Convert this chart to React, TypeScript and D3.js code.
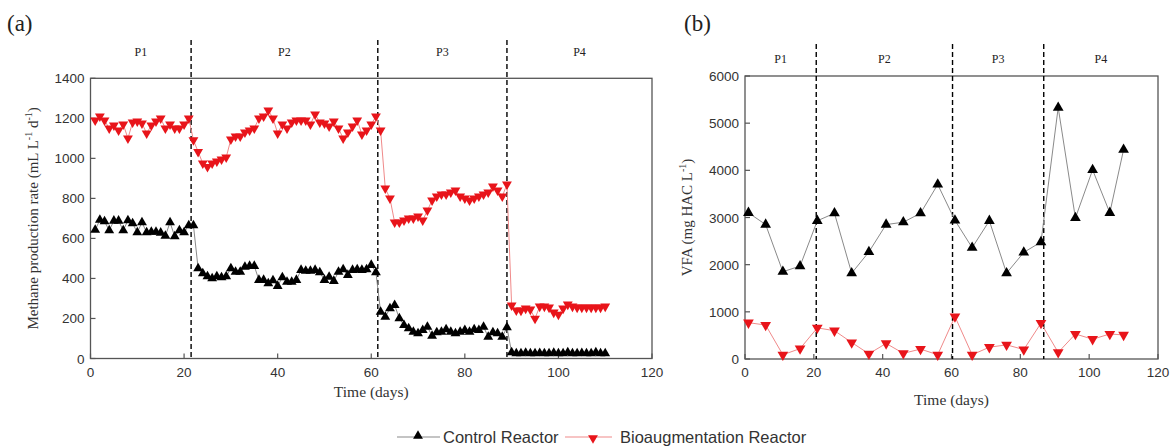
import React from "react";
import * as d3 from "d3";

// ---------- Panel (a): methane production rate (mL L-1 d-1), daily ----------
const daysA: number[] = d3.range(1, 111);
const controlA: number[] = [
  // P1 days 1-21
  642, 692, 685, 640, 688, 688, 640, 690, 675, 630, 680, 630, 632, 632, 628, 612, 680, 610, 640, 630, 665,
  // P2 days 22-61
  665, 450, 425, 410, 400, 410, 405, 410, 450, 433, 433, 458, 462, 462, 392, 392, 375, 390, 362, 405,
  383, 383, 392, 442, 438, 438, 442, 430, 392, 408, 387, 433, 445, 417, 442, 445, 442, 445, 467, 430,
  // P3 days 62-89
  233, 208, 250, 267, 200, 167, 150, 133, 125, 141, 158, 113, 130, 133, 145, 133, 125, 133, 141, 133,
  145, 141, 158, 108, 130, 125, 108, 155,
  // P4 days 90-110
  30, 25, 25, 28, 25, 25, 27, 25, 25, 28, 25, 25, 30, 25, 25, 27, 25, 25, 30, 25, 25,
];
const bioA: number[] = [
  // P1 days 1-21
  1190, 1210, 1190, 1150, 1165, 1140, 1170, 1100, 1180, 1185, 1175, 1125, 1165, 1185, 1200, 1150, 1170, 1150, 1150, 1170, 1200,
  // P2 days 22-61
  1091, 1033, 975, 958, 975, 985, 995, 1005, 1095, 1110, 1110, 1130, 1140, 1150, 1200, 1210, 1240, 1200, 1125, 1170,
  1150, 1180, 1190, 1190, 1190, 1170, 1220, 1180, 1175, 1160, 1185, 1150, 1100, 1130, 1160, 1190, 1120, 1140, 1170, 1210,
  // P3 days 62-89
  1140, 850, 800, 680, 680, 690, 700, 700, 710, 690, 740, 790, 810, 820, 820, 830, 840, 810, 800, 790,
  800, 810, 820, 830, 860, 840, 810, 870,
  // P4 days 90-110
  266, 241, 240, 250, 245, 200, 260, 260, 255, 230, 220, 250, 270, 260, 255, 255, 255, 255, 255, 255, 260,
];
const phaseA: number[] = [21.5, 61.4, 89.0];

// ---------- Panel (b): VFA (mg HAC L-1) ----------
const daysB: number[] = [1, 6, 11, 16, 21, 26, 31, 36, 41, 46, 51, 56, 61, 66, 71, 76, 81, 86, 91, 96, 101, 106, 110];
const controlB: number[] = [3100, 2850, 1850, 1970, 2930, 3090, 1820, 2270, 2850, 2900, 3090, 3700, 2940, 2360, 2930, 1820, 2260, 2480, 5330, 2990, 4010, 3100, 4440];
const bioB: number[] = [770, 720, 90, 220, 660, 600, 350, 110, 330, 120, 210, 90, 900, 90, 250, 300, 200, 760, 140, 530, 420, 530, 510];
const phaseB: number[] = [20.7, 60.3, 86.8];

const phaseLabels: string[] = ["P1", "P2", "P3", "P4"];
const xTicks: number[] = [0, 20, 40, 60, 80, 100, 120];
const yTicksA: number[] = [0, 200, 400, 600, 800, 1000, 1200, 1400];
const yTicksB: number[] = [0, 1000, 2000, 3000, 4000, 5000, 6000];
const seriesNames: string[] = ["Control Reactor", "Bioaugmentation Reactor"];

const AXIS = "#555";
const BLACK = "#000";
const RED = "#e8141a";
const GREY_LINE = "#8a8a8a";
const RED_LINE = "#f08a8a";
const SANS = "'Liberation Sans', Arial, sans-serif";
const SERIF = "'Liberation Serif', 'Times New Roman', serif";

const triUp = d3.symbol().type(d3.symbolTriangle).size(42)();

type PanelProps = {
  left: number; right: number; top: number; bottom: number;
  yMax: number; yTicks: number[];
  cx: number[]; cy: number[]; bx: number[]; by: number[];
  phases: number[];
  dashTop: number;
  labelY: number;
  yTitle: React.ReactNode;
  yTitleX: number;
  xTitleY: number;
  markSize: number;
};

function Panel(p: PanelProps) {
  const x = d3.scaleLinear().domain([0, 120]).range([p.left, p.right]);
  const y = d3.scaleLinear().domain([0, p.yMax]).range([p.bottom, p.top]);
  const line = d3.line<[number, number]>().x((d) => x(d[0])).y((d) => y(d[1]));
  const cPts = p.cx.map((d, i) => [d, p.cy[i]] as [number, number]);
  const bPts = p.bx.map((d, i) => [d, p.by[i]] as [number, number]);
  const sym = d3.symbol().type(d3.symbolTriangle).size(p.markSize)();
  const bounds = [0, ...p.phases, 120];
  return (
    <g>
      {/* frame */}
      <rect x={p.left} y={p.top} width={p.right - p.left} height={p.bottom - p.top} fill="none" stroke={AXIS} strokeWidth={1.3} />
      {/* ticks */}
      {xTicks.map((t) => (
        <g key={"xt" + t}>
          <line x1={x(t)} x2={x(t)} y1={p.bottom} y2={p.bottom - 5} stroke={AXIS} strokeWidth={1.2} />
          <text x={x(t)} y={p.bottom + 18} textAnchor="middle" fontFamily={SANS} fontSize={13.5} fill="#333">{t}</text>
        </g>
      ))}
      {p.yTicks.map((t) => (
        <g key={"yt" + t}>
          <line x1={p.left} x2={p.left + 5} y1={y(t)} y2={y(t)} stroke={AXIS} strokeWidth={1.2} />
          <text x={p.left - 6} y={y(t) + 5} textAnchor="end" fontFamily={SANS} fontSize={13.5} fill="#333">{t}</text>
        </g>
      ))}
      {/* phase separators */}
      {p.phases.map((d) => (
        <line key={"ph" + d} x1={x(d)} x2={x(d)} y1={p.dashTop} y2={p.bottom} stroke={BLACK} strokeWidth={1.4} strokeDasharray="5,3" />
      ))}
      {phaseLabels.map((lab, i) => (
        <text key={lab} x={(x(bounds[i]) + x(bounds[i + 1])) / 2} y={p.labelY} textAnchor="middle" fontFamily={SERIF} fontSize={12} fill="#222">{lab}</text>
      ))}
      {/* series lines */}
      <path d={line(cPts) || ""} fill="none" stroke={GREY_LINE} strokeWidth={1} />
      <path d={line(bPts) || ""} fill="none" stroke={RED_LINE} strokeWidth={1} />
      {cPts.map((d, i) => (
        <path key={"c" + i} d={sym || ""} transform={`translate(${x(d[0])},${y(d[1])})`} fill={BLACK} />
      ))}
      {bPts.map((d, i) => (
        <path key={"b" + i} d={sym || ""} transform={`translate(${x(d[0])},${y(d[1])}) rotate(180)`} fill={RED} />
      ))}
      {/* axis titles */}
      <text x={(p.left + p.right) / 2} y={p.xTitleY} textAnchor="middle" fontFamily={SERIF} fontSize={15.5} fill="#333">Time (days)</text>
      <text transform={`translate(${p.yTitleX},${(p.top + p.bottom) / 2}) rotate(-90)`} textAnchor="middle" fontFamily={SERIF} fontSize={15} fill="#333">{p.yTitle}</text>
    </g>
  );
}

export default function App() {
  return (
    <svg width={1174} height={448} style={{ position: "absolute", left: 0, top: 0, background: "#fff" }}>
      <rect x={0} y={0} width={1174} height={448} fill="#fff" />
      <text x={7} y={31} fontFamily={SERIF} fontSize={23} fill="#222">(a)</text>
      <text x={684} y={31} fontFamily={SERIF} fontSize={23} fill="#222">(b)</text>
      <Panel
        left={90.5} right={652} top={78.3} bottom={358.5}
        yMax={1400} yTicks={yTicksA}
        cx={daysA} cy={controlA} bx={daysA} by={bioA}
        phases={phaseA} dashTop={40} labelY={56}
        yTitle={<>Methane production rate (mL L<tspan dy={-6} fontSize={10}>-1</tspan><tspan dy={6}> d</tspan><tspan dy={-6} fontSize={10}>-1</tspan><tspan dy={6}>)</tspan></>}
        yTitleX={38} xTitleY={397} markSize={42}
      />
      <Panel
        left={745} right={1158} top={76} bottom={359}
        yMax={6000} yTicks={yTicksB}
        cx={daysB} cy={controlB} bx={daysB} by={bioB}
        phases={phaseB} dashTop={44} labelY={63}
        yTitle={<>VFA (mg HAC L<tspan dy={-6} fontSize={10}>-1</tspan><tspan dy={6}>)</tspan></>}
        yTitleX={692} xTitleY={405} markSize={50}
      />
      {/* legend */}
      <g>
        <line x1={397} x2={440} y1={437} y2={437} stroke={GREY_LINE} strokeWidth={1.2} />
        <path d={triUp || ""} transform="translate(418,436)" fill={BLACK} />
        <text x={443} y={443} fontFamily={SANS} fontSize={16.5} fill="#333">{seriesNames[0]}</text>
        <line x1={565} x2={612} y1={437} y2={437} stroke={RED_LINE} strokeWidth={1.2} />
        <path d={triUp || ""} transform="translate(593,438) rotate(180)" fill={RED} />
        <text x={620} y={443} fontFamily={SANS} fontSize={16.5} fill="#333">{seriesNames[1]}</text>
      </g>
    </svg>
  );
}
